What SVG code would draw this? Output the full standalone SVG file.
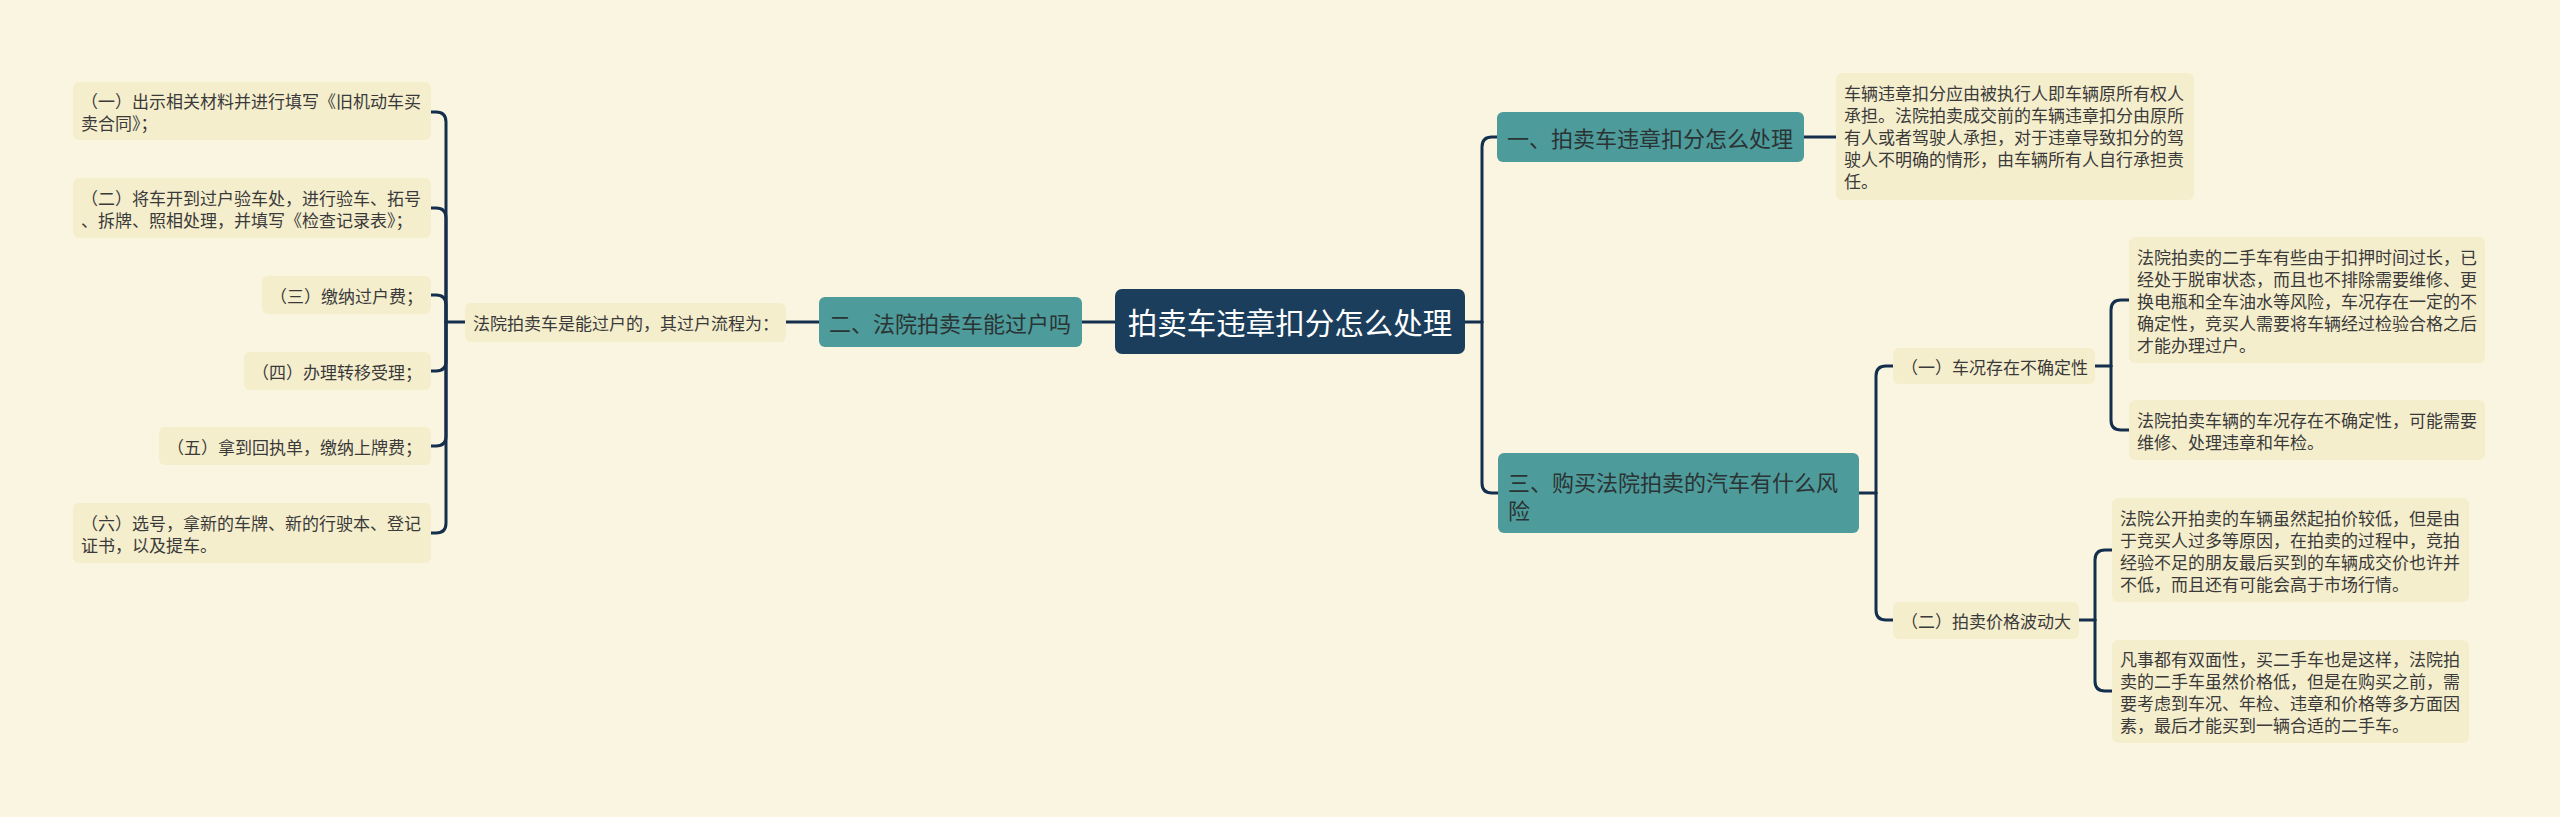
<svg xmlns="http://www.w3.org/2000/svg" width="2560" height="817" viewBox="0 0 2560 817">
<style>
text{font-family:"Noto Sans CJK SC","Noto Sans",sans-serif;dominant-baseline:central}
.leaf rect{fill:#f5eecd}
.leaf text{font-size:17px;fill:#3a3a3a}
.br rect{fill:#4e9b9b}
.br text{font-size:22px;fill:#2a3434}
.root rect{fill:#1b3e5d}
.root text{font-size:29.5px;fill:#ffffff;text-anchor:middle}
.conn path{fill:none;stroke:#142f4d;stroke-width:3;stroke-linecap:round}
</style>
<rect width="2560" height="817" fill="#faf5e0"/>
<g class="conn" id="connectors">
<path d="M1115,322 H1082"/>
<path d="M819,322 H786"/>
<path d="M465,322 H446"/>
<path d="M446,322 V122 Q446,112 436,112 H431"/>
<path d="M446,322 V218 Q446,208 436,208 H431"/>
<path d="M446,322 V305 Q446,295 436,295 H431"/>
<path d="M446,322 V361 Q446,371 436,371 H431"/>
<path d="M446,322 V436 Q446,446 436,446 H431"/>
<path d="M446,322 V523 Q446,533 436,533 H431"/>
<path d="M1465,322 H1482"/>
<path d="M1482,322 V147 Q1482,137 1492,137 H1497"/>
<path d="M1482,322 V483 Q1482,493 1492,493 H1498"/>
<path d="M1804,137 H1836"/>
<path d="M1859,493 H1876"/>
<path d="M1876,493 V376 Q1876,366 1886,366 H1893"/>
<path d="M1876,493 V610 Q1876,620 1886,620 H1893"/>
<path d="M2095,366 H2111"/>
<path d="M2111,366 V310 Q2111,300 2121,300 H2129"/>
<path d="M2111,366 V420 Q2111,430 2121,430 H2129"/>
<path d="M2079,620 H2095"/>
<path d="M2095,620 V560 Q2095,550 2105,550 H2112"/>
<path d="M2095,620 V681 Q2095,691 2105,691 H2112"/>
</g>
<g class="root" id="root"><rect x="1115" y="289" width="350" height="65" rx="7"/><text x="1290" y="321">拍卖车违章扣分怎么处理</text></g>
<g class="br" id="b2"><rect x="819" y="297" width="263" height="50" rx="6"/><text x="829" y="322">二、法院拍卖车能过户吗</text></g>
<g class="leaf" id="b2-intro"><rect x="465" y="303" width="321" height="39" rx="6"/><text x="473" y="322">法院拍卖车是能过户的，其过户流程为：</text></g>
<g class="leaf" id="s1"><rect x="73" y="82" width="358" height="58" rx="6"/><text x="81" y="100">（一）出示相关材料并进行填写《旧机动车买</text><text x="81" y="122">卖合同》；</text></g>
<g class="leaf" id="s2"><rect x="73" y="178" width="358" height="60" rx="6"/><text x="81" y="197">（二）将车开到过户验车处，进行验车、拓号</text><text x="81" y="219">、拆牌、照相处理，并填写《检查记录表》；</text></g>
<g class="leaf" id="s3"><rect x="262" y="276" width="169" height="38" rx="6"/><text x="270" y="295">（三）缴纳过户费；</text></g>
<g class="leaf" id="s4"><rect x="244" y="352" width="187" height="38" rx="6"/><text x="252" y="371">（四）办理转移受理；</text></g>
<g class="leaf" id="s5"><rect x="159" y="427" width="272" height="38" rx="6"/><text x="167" y="446">（五）拿到回执单，缴纳上牌费；</text></g>
<g class="leaf" id="s6"><rect x="73" y="503" width="358" height="60" rx="6"/><text x="81" y="522">（六）选号，拿新的车牌、新的行驶本、登记</text><text x="81" y="544">证书，以及提车。</text></g>
<g class="br" id="b1"><rect x="1497" y="112" width="307" height="50" rx="6"/><text x="1507" y="137">一、拍卖车违章扣分怎么处理</text></g>
<g class="leaf" id="b1-leaf"><rect x="1836" y="73" width="358" height="127" rx="6"/><text x="1844" y="92.5">车辆违章扣分应由被执行人即车辆原所有权人</text><text x="1844" y="114.5">承担。法院拍卖成交前的车辆违章扣分由原所</text><text x="1844" y="136.5">有人或者驾驶人承担，对于违章导致扣分的驾</text><text x="1844" y="158.5">驶人不明确的情形，由车辆所有人自行承担责</text><text x="1844" y="180.5">任。</text></g>
<g class="br" id="b3"><rect x="1498" y="453" width="361" height="80" rx="6"/><text x="1508" y="481">三、购买法院拍卖的汽车有什么风</text><text x="1508" y="509">险</text></g>
<g class="leaf" id="b3-1"><rect x="1893" y="348" width="202" height="36" rx="6"/><text x="1901" y="366">（一）车况存在不确定性</text></g>
<g class="leaf" id="b3-1a"><rect x="2129" y="237" width="356" height="126" rx="6"/><text x="2137" y="256">法院拍卖的二手车有些由于扣押时间过长，已</text><text x="2137" y="278">经处于脱审状态，而且也不排除需要维修、更</text><text x="2137" y="300">换电瓶和全车油水等风险，车况存在一定的不</text><text x="2137" y="322">确定性，竞买人需要将车辆经过检验合格之后</text><text x="2137" y="344">才能办理过户。</text></g>
<g class="leaf" id="b3-1b"><rect x="2129" y="400" width="356" height="60" rx="6"/><text x="2137" y="419">法院拍卖车辆的车况存在不确定性，可能需要</text><text x="2137" y="441">维修、处理违章和年检。</text></g>
<g class="leaf" id="b3-2"><rect x="1893" y="602" width="186" height="37" rx="6"/><text x="1901" y="620">（二）拍卖价格波动大</text></g>
<g class="leaf" id="b3-2a"><rect x="2112" y="498" width="357" height="104" rx="6"/><text x="2120" y="517">法院公开拍卖的车辆虽然起拍价较低，但是由</text><text x="2120" y="539">于竞买人过多等原因，在拍卖的过程中，竞拍</text><text x="2120" y="561">经验不足的朋友最后买到的车辆成交价也许并</text><text x="2120" y="583">不低，而且还有可能会高于市场行情。</text></g>
<g class="leaf" id="b3-2b"><rect x="2112" y="640" width="357" height="103" rx="6"/><text x="2120" y="658.5">凡事都有双面性，买二手车也是这样，法院拍</text><text x="2120" y="680.5">卖的二手车虽然价格低，但是在购买之前，需</text><text x="2120" y="702.5">要考虑到车况、年检、违章和价格等多方面因</text><text x="2120" y="724.5">素，最后才能买到一辆合适的二手车。</text></g>
</svg>
